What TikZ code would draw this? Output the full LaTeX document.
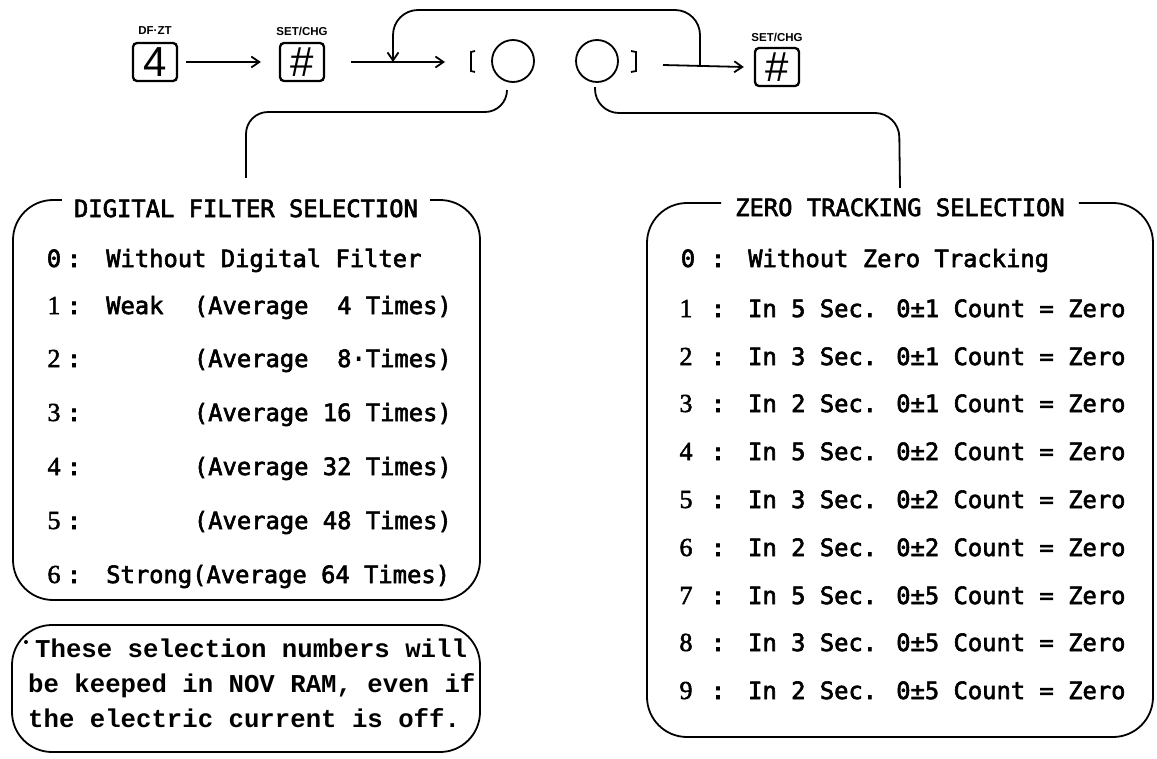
\documentclass[tikz,border=0pt]{standalone}
\usepackage{fontspec}
\usetikzlibrary{arrows.meta}
\newfontfamily\monof[FakeBold=2.5]{DejaVu Sans Mono}
\newfontfamily\numff[FakeBold=2]{Liberation Serif}
\newfontfamily\notef{Liberation Mono}
\newfontfamily\keyf{Liberation Sans}
\newcommand\mono{\monof\fontsize{23.8}{28}\selectfont}
\newcommand\numfnt{\numff\fontsize{26}{28}\selectfont}
\newcommand\notefnt{\notef\bfseries\fontsize{25.7}{30}\selectfont}
\newcommand\keyfnt{\keyf\fontsize{42}{42}\selectfont}
\newcommand\lblfnt{\keyf\bfseries\fontsize{11.5}{11.5}\selectfont}
\tikzset{
  ln/.style={line width=1.8pt},
  keybox/.style={draw, line width=2.3pt, rounded corners=4pt, minimum width=44pt, minimum height=38pt, inner sep=0pt, font=\keyfnt},
  keylbl/.style={font=\lblfnt, inner sep=0pt},
  arr/.style={ln, -{Straight Barb[length=8pt,width=11pt]}},
  ttl/.style={font=\mono, inner sep=0pt, text height=18pt, text depth=0pt},
  txt/.style={font=\mono, anchor=west, inner sep=0pt, text height=18pt, text depth=0pt},
  txtr/.style={font=\mono, anchor=east, inner sep=0pt, text height=18pt, text depth=0pt},
  num/.style={font=\numfnt, inner sep=0pt, text height=18pt, text depth=0pt},
  zero/.style={font=\mono, inner sep=0pt, text height=18pt, text depth=0pt},
  col/.style={font=\mono, inner sep=0pt, text height=18pt, text depth=0pt},
  note/.style={font=\notefnt, anchor=west, inner sep=0pt, text height=18pt, text depth=0pt},
  circ/.style={circle, draw, ln, minimum size=42pt, inner sep=0pt},
  bullet/.style={circle, fill, minimum size=4pt, inner sep=0pt},
}
\begin{document}
\begin{tikzpicture}[x=1pt,y=-1pt]
\useasboundingbox (0,0) rectangle (1157,758);

% ---- top row ----
\node[keybox] (k4) at (155,62) {4};
\node[keylbl] (l4) at (155,31) {DF·ZT};
\node[keybox] (h1) at (302,62) {\#};
\node[keylbl] (l1) at (302,31) {SET/CHG};
\node[keybox] (h2) at (777,67) {\#};
\node[keylbl] (l2) at (777,37) {SET/CHG};

\node[circ] (c1) at (513,61) {};
\node[circ] (c2) at (597,61) {};
\draw[ln] (475,51) -- (471,52) -- (471,71) -- (475,72);
\draw[ln] (631,51) -- (636,52) -- (636,71) -- (631,72);

\coordinate (a2e) at (445,62);
\coordinate (a3s) at (663,65);
\coordinate (j1) at (393,62);
\coordinate (j2) at (700,65);

\draw[arr] ([xshift=8pt]k4.east) -- ([xshift=-18pt]h1.west);
\draw[arr] ([xshift=26pt]h1.east) -- (a2e);
\draw[arr] (a3s) -- ([xshift=-10pt]h2.west);
\draw[arr, rounded corners=25pt] (j2) -- (700,10) -- (393,10) -- (j1);

% ---- titles ----
\node[ttl] (dft) at (246,208) {DIGITAL FILTER SELECTION};
\node[ttl] (zts) at (900,207) {ZERO TRACKING SELECTION};

% ---- connectors from the circles ----
\coordinate (s1) at (507,90);
\coordinate (s2) at (595,87);
\draw[ln, rounded corners=22pt] (s1) -- (507,112) -- (246,112) -- ([yshift=21pt]dft.north);
\draw[ln, rounded corners=24pt] (s2) -- (595,113) -- (899,113) -- ([yshift=10pt]zts.north);

% ---- boxes ----
\draw[ln, rounded corners=40pt] ([xshift=-12pt]dft.west |- 0,200) -- (13,200) -- (13,600) -- (480,600) -- (480,200) -- ([xshift=12pt]dft.east |- 0,200);
\draw[ln, rounded corners=40pt] ([xshift=-14pt]zts.west |- 0,203) -- (647,203) -- (647,737) -- (1153,737) -- (1153,203) -- ([xshift=14pt]zts.east |- 0,203);
\draw[ln, rounded corners=40pt] (12,625) rectangle (480,752);

% ---- digital filter rows ----
\node[zero] (dn0) at (54,258) {0}; \node[col] (dc0) at (74,258) {:};
\node[txt] (dt0) at (106,258) {Without Digital Filter};
\node[num] (dn1) at (54,305) {1}; \node[col] (dc1) at (74,305) {:};
\node[txt] (dt1) at (106,305) {Weak};
\node[txtr] (da1) at (452,305) {(Average \phantom{1}4 Times)};
\node[num] (dn2) at (54,358) {2}; \node[col] (dc2) at (74,358) {:};
\node[txtr] (da2) at (452,358) {(Average \phantom{1}8·Times)};
\node[num] (dn3) at (54,412) {3}; \node[col] (dc3) at (74,412) {:};
\node[txtr] (da3) at (452,412) {(Average 16 Times)};
\node[num] (dn4) at (54,466) {4}; \node[col] (dc4) at (74,466) {:};
\node[txtr] (da4) at (452,466) {(Average 32 Times)};
\node[num] (dn5) at (54,520) {5}; \node[col] (dc5) at (74,520) {:};
\node[txtr] (da5) at (452,520) {(Average 48 Times)};
\node[num] (dn6) at (54,574) {6}; \node[col] (dc6) at (74,574) {:};
\node[txt] (dt6) at (106,574) {Strong(Average 64 Times)};

% ---- zero tracking rows ----
\node[zero] (zn0) at (688,258) {0}; \node[col] (zc0) at (718,258) {:};
\node[txt] (zt0) at (748,258) {Without Zero Tracking};
\node[num] (zn1) at (686,308) {1}; \node[col] (zc1) at (718,308) {:};
\node[txt] (zt1) at (748,308) {In 5 Sec. 0±1 Count = Zero};
\node[num] (zn2) at (686,356) {2}; \node[col] (zc2) at (718,356) {:};
\node[txt] (zt2) at (748,356) {In 3 Sec. 0±1 Count = Zero};
\node[num] (zn3) at (686,403) {3}; \node[col] (zc3) at (718,403) {:};
\node[txt] (zt3) at (748,403) {In 2 Sec. 0±1 Count = Zero};
\node[num] (zn4) at (686,451) {4}; \node[col] (zc4) at (718,451) {:};
\node[txt] (zt4) at (748,451) {In 5 Sec. 0±2 Count = Zero};
\node[num] (zn5) at (686,499) {5}; \node[col] (zc5) at (718,499) {:};
\node[txt] (zt5) at (748,499) {In 3 Sec. 0±2 Count = Zero};
\node[num] (zn6) at (686,547) {6}; \node[col] (zc6) at (718,547) {:};
\node[txt] (zt6) at (748,547) {In 2 Sec. 0±2 Count = Zero};
\node[num] (zn7) at (686,595) {7}; \node[col] (zc7) at (718,595) {:};
\node[txt] (zt7) at (748,595) {In 5 Sec. 0±5 Count = Zero};
\node[num] (zn8) at (686,642) {8}; \node[col] (zc8) at (718,642) {:};
\node[txt] (zt8) at (748,642) {In 3 Sec. 0±5 Count = Zero};
\node[num] (zn9) at (686,690) {9}; \node[col] (zc9) at (718,690) {:};
\node[txt] (zt9) at (748,690) {In 2 Sec. 0±5 Count = Zero};

% ---- note ----
\node[bullet] (nb) at (26,642) {};
\node[note] (n1) at (35,648) {These selection numbers will};
\node[note] (n2) at (28,683) {be keeped in NOV RAM, even if};
\node[note] (n3) at (28,718) {the electric current is off.};
\end{tikzpicture}
\end{document}
